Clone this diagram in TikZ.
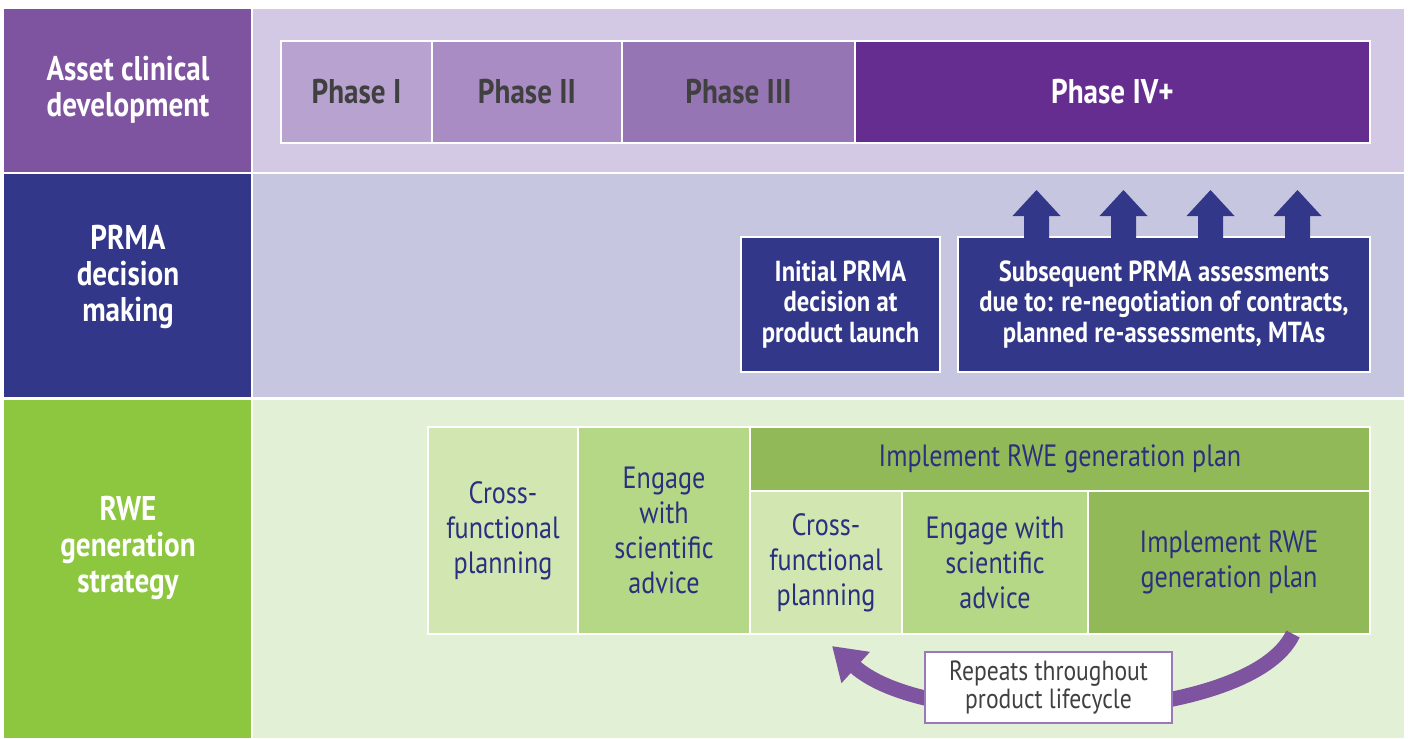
\documentclass[tikz,border=0pt]{standalone}
\usepackage{fontspec}
\setmainfont[FakeStretch=0.85]{PT Sans}
\usetikzlibrary{arrows.meta}

\definecolor{assetc}{HTML}{7E53A0}
\definecolor{assetbg}{HTML}{D3C9E4}
\definecolor{phaseA}{HTML}{B8A2CF}
\definecolor{phaseB}{HTML}{A98CC4}
\definecolor{phaseC}{HTML}{9675B4}
\definecolor{phaseD}{HTML}{652D90}
\definecolor{prmac}{HTML}{32378A}
\definecolor{prmabg}{HTML}{C7C6E0}
\definecolor{rwec}{HTML}{8DC63F}
\definecolor{rwebg}{HTML}{E2F0D5}
\definecolor{crossc}{HTML}{D1E6B1}
\definecolor{engagec}{HTML}{B5D886}
\definecolor{implc}{HTML}{91B958}
\definecolor{navytxt}{HTML}{2B2F7F}
\definecolor{greytxt}{HTML}{404040}
\definecolor{loopc}{HTML}{7E53A0}
\definecolor{loopedge}{HTML}{9A78BE}

\begin{document}
\begin{tikzpicture}[x=0.02cm,y=-0.02cm,
    rect/.style n args={4}{minimum width={(#3-#1)*0.02cm}, minimum height={(#4-#2)*0.02cm},
        at={({(#1+#3)/2},{(#2+#4)/2})}},
    band/.style={inner sep=0pt},
    cell/.style={inner sep=0pt, draw=white, line width=1.1pt, align=center},
    headtxt/.style={text=white, align=center, font=\bfseries\fontsize{19.5}{20.4}\selectfont},
    phasetxt/.style={text=greytxt, font=\bfseries\fontsize{19.5}{22}\selectfont},
    prmatxt/.style={text=white, font=\bfseries\fontsize{16.5}{17.2}\selectfont},
    rwetxt/.style={text=navytxt, font=\fontsize{17.5}{20}\selectfont},
    loop/.style={draw=loopc, line width=0.3cm, -{Triangle[width=0.8cm,length=0.64cm]}}]
    \useasboundingbox (0,0) rectangle (1408,738);
    % row bands
    \node[band, fill=assetc, rect={4}{9}{251}{172}] (lab1) {};
    \node[band, fill=assetbg, rect={253}{9}{1404}{172}] (bg1) {};
    \node[band, fill=prmac, rect={4}{174}{251}{397}] (lab2) {};
    \node[band, fill=prmabg, rect={253}{174}{1404}{397}] (bg2) {};
    \node[band, fill=rwec, rect={4}{400}{251}{738}] (lab3) {};
    \node[band, fill=rwebg, rect={253}{400}{1404}{738}] (bg3) {};
    \node[headtxt] (t1) at (128,90) {Asset clinical\\development};
    \node[headtxt] (t2) at (128,277) {PRMA\\decision\\making};
    \node[headtxt] (t3) at (128,548) {RWE\\generation\\strategy};
    % phases
    \node[cell, phasetxt, fill=phaseA, rect={281}{41}{432}{143}] (ph1) {Phase I};
    \node[cell, phasetxt, fill=phaseB, rect={432}{41}{622}{143}] (ph2) {Phase II};
    \node[cell, phasetxt, fill=phaseC, rect={622}{41}{855}{143}] (ph3) {Phase III};
    \node[cell, phasetxt, text=white, fill=phaseD, rect={855}{41}{1370}{143}] (ph4) {Phase IV+};
    % PRMA decisions
    \node[cell, prmatxt, fill=prmac, rect={741}{237}{940}{372}] (init) {Initial PRMA\\decision at\\product launch};
    \node[cell, prmatxt, fill=prmac, rect={958}{237}{1370}{372}] (subs) {Subsequent PRMA assessments\\due to: re-negotiation of contracts,\\planned re-assessments, MTAs};
    \foreach \x in {1036.5,1123.5,1210.5,1297.5}
        \fill[prmac] ({\x-12.5},240) -- ({\x-12.5},216) -- ({\x-24},216) -- (\x,190)
            -- ({\x+24},216) -- ({\x+12.5},216) -- ({\x+12.5},240) -- cycle;
    % RWE generation
    \node[cell, rwetxt, fill=crossc, rect={428}{427}{578}{634}] (cross1) {Cross-\\functional\\planning};
    \node[cell, rwetxt, fill=engagec, rect={578}{427}{750}{634}] (engage1) {Engage\\with\\scientific\\advice};
    \node[cell, rwetxt, fill=implc, rect={750}{427}{1370}{491}] (impl1) {Implement RWE generation plan};
    \node[cell, rwetxt, fill=crossc, rect={750}{491}{902}{634}] (cross2) {Cross-\\functional\\planning};
    \node[cell, rwetxt, fill=engagec, rect={902}{491}{1088}{634}] (engage2) {Engage with\\scientific\\advice};
    \node[cell, rwetxt, fill=implc, rect={1088}{491}{1370}{634}] (impl2) {Implement RWE\\generation plan};
    % loop back
    \coordinate (loopA) at (1293,634);
    \coordinate (loopB) at (832,646);
    \draw[loop] (loopA) .. controls (1250,725) and (930,735) .. (loopB);
    \node[draw=loopedge, line width=0.8pt, fill=white, inner sep=0pt, align=center,
        text=greytxt, font=\fontsize{15.8}{16.5}\selectfont,
        rect={925}{652}{1172}{723}] (repeat) {Repeats throughout\\product lifecycle};
\end{tikzpicture}
\end{document}
